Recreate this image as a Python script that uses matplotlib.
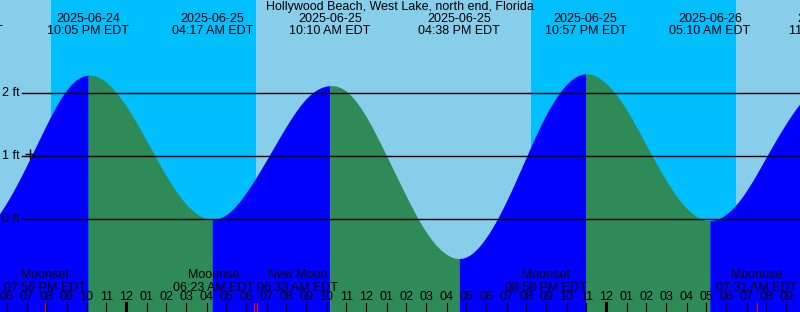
import numpy as np
import pandas as pd
import matplotlib
matplotlib.use("Agg")
import matplotlib.pyplot as plt
import matplotlib.dates as mdates
import matplotlib.transforms as mtransforms

plt.rcParams['font.family'] = ['Liberation Sans', 'DejaVu Sans']

title = "Hollywood Beach, West Lake, north end, Florida"

# water level (ft) on the hour
hourly_start = "2025-06-24 17:00"
hourly_levels = [-0.20, 0.26, 0.85, 1.50, 2.05, 2.285, 2.17, 1.79, 1.25, 0.685,
                 0.235, 0.012, 0.076, 0.43, 0.94, 1.48, 1.92, 2.115, 2.03, 1.62,
                 1.01, 0.36, -0.21, -0.555, -0.596, -0.28, 0.29, 0.996, 1.67,
                 2.14, 2.31, 2.15, 1.74, 1.17, 0.61, 0.177, -0.016, 0.084, 0.454,
                 0.994, 1.53, 1.95, 2.17]

# high / low tides
extreme_times = ["2025-06-24 15:46", "2025-06-24 22:05", "2025-06-25 04:17",
                 "2025-06-25 10:10", "2025-06-25 16:38", "2025-06-25 22:57",
                 "2025-06-26 05:10", "2025-06-26 11:08"]
extreme_levels = [-0.5, 2.29, 0.0, 2.12, -0.62, 2.31, -0.02, 2.18]

# moon events
moon_times = ["2025-06-24 19:56", "2025-06-25 06:23", "2025-06-25 06:33",
              "2025-06-25 20:58", "2025-06-26 07:31"]
moon_names = ["Moonset", "Moonrise", "New Moon", "Moonset", "Moonrise"]
moon_align = ["center", "right", "left", "center", "center"]

# night (sunset -> sunrise)
sunsets = ["2025-06-24 20:13", "2025-06-25 20:13"]
sunrises = ["2025-06-25 06:28", "2025-06-26 06:30"]

grid_levels = [0, 1, 2]
mark_time = "2025-06-24 19:10"
mark_level = 1.04

view_start = "2025-06-24 17:40:30"
view_end = "2025-06-26 09:40:30"

DAY = "#87CEEB"
NIGHT = "#00BFFF"
RISE = "#0000FF"
FALL = "#2E8B57"


def spline(y, xn):
    # natural cubic spline through evenly spaced readings (spacing 1)
    n = len(y)
    A = np.zeros((n, n))
    b = np.zeros(n)
    A[0, 0] = A[-1, -1] = 1
    for i in range(1, n - 1):
        A[i, i - 1:i + 2] = [1, 4, 1]
        b[i] = 6 * (y[i + 1] - 2 * y[i] + y[i - 1])
    M = np.linalg.solve(A, b)
    i = np.clip(np.floor(xn).astype(int), 0, n - 2)
    s = xn - i
    return ((1 - s) * y[i] + s * y[i + 1]
            + ((1 - s)**3 - (1 - s)) * M[i] / 6 + (s**3 - s) * M[i + 1] / 6)


W, H = 800, 312
fig = plt.figure(figsize=(W / 100, H / 100), dpi=100)
fig.patch.set_facecolor(DAY)
ax = fig.add_axes([0, 0, 1, 1])
ax.set_axis_off()

d = lambda s: mdates.date2num(pd.to_datetime(s))

x0, x1 = d(view_start), d(view_end)
ybot, ytop = -(H - 219.3) / 63, 219.3 / 63
ax.set_xlim(x0, x1)
ax.set_ylim(ybot, ytop)

for s, r in zip(sunsets, sunrises):
    ax.axvspan(d(s), d(r), color=NIGHT, lw=0, zorder=0)

lv = np.array(hourly_levels, dtype=float)
t0 = d(hourly_start)
tend = t0 + (len(lv) - 1) / 24

et = d(extreme_times)
for i in range(len(et) - 1):
    lo, hi = max(et[i], t0), min(et[i + 1], tend)
    if hi <= lo:
        continue
    tf = np.linspace(lo, hi, 400)
    vf = spline(lv, (tf - t0) * 24)
    col = RISE if extreme_levels[i + 1] > extreme_levels[i] else FALL
    ax.fill_between(tf, ybot, vf, color=col, lw=0, zorder=1)

yax = mtransforms.blended_transform_factory(ax.transAxes, ax.transData)
xax = mtransforms.blended_transform_factory(ax.transData, ax.transAxes)

for g in grid_levels:
    ax.axhline(g, xmin=22 / W, xmax=1, color="black", lw=1.0, zorder=3)
    ax.text(2 / W, g, f"{g} ft", transform=yax, ha="left", va="center",
            fontsize=9, zorder=4)

ax.plot(d(mark_time), mark_level, marker="+", ms=7, mew=1.0, color="black",
        zorder=4)

fy = lambda py: 1 - py / H

ax.text(0.5, fy(7), title, transform=ax.transAxes, ha="center", va="center",
        fontsize=9, zorder=5)
for ts in extreme_times:
    tt = pd.to_datetime(ts)
    ax.text(d(ts), fy(19), f"{tt:%Y-%m-%d}", transform=xax, ha="center",
            va="center", fontsize=9, zorder=5)
    ax.text(d(ts), fy(31), f"{tt:%I:%M %p} EDT", transform=xax, ha="center",
            va="center", fontsize=9, zorder=5)

for ts, name, al in zip(moon_times, moon_names, moon_align):
    tt = pd.to_datetime(ts)
    ax.text(d(ts), fy(281.5), f"{name}\n{tt:%I:%M %p} EDT", transform=xax,
            ha=al, ma="center", va="center", fontsize=9, linespacing=1.05,
            zorder=5)
    ax.axvline(d(ts), ymin=0, ymax=fy(303), color="red", lw=0.8, zorder=4)

hours = pd.date_range("2025-06-24 18:00", "2025-06-26 09:00", freq="h")
for hh in hours:
    ax.text(d(hh), fy(297.5), f"{hh:%I}", transform=xax, ha="center",
            va="center", fontsize=9, zorder=5)
    thick = 2.2 if hh.hour == 0 else 0.8
    ax.axvline(d(hh), ymin=0, ymax=fy(303), color="black", lw=thick, zorder=4)

fig.savefig("out.png", dpi=100, facecolor=DAY)
